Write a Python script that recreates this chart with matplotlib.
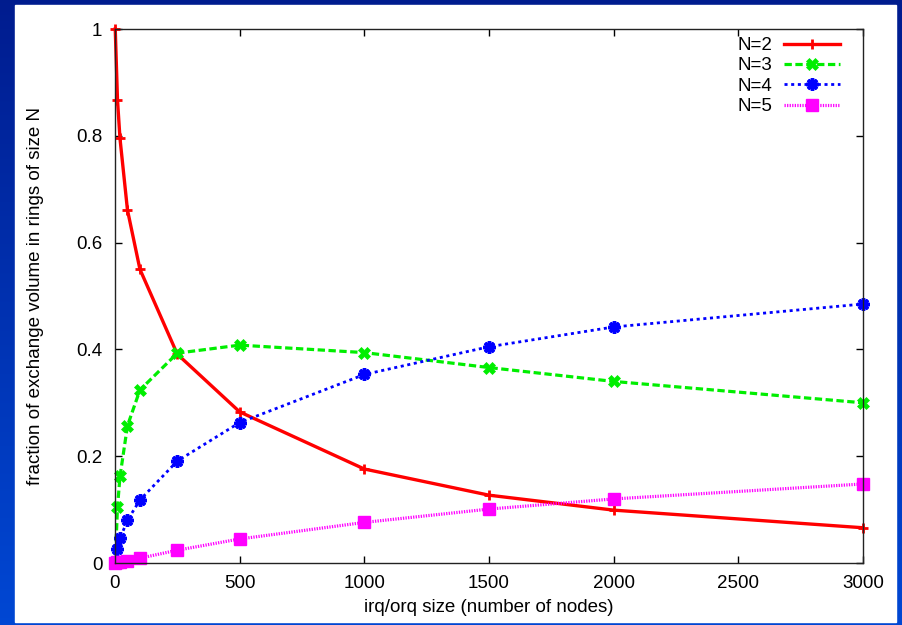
import matplotlib
matplotlib.use("Agg")
import matplotlib.pyplot as plt
import numpy as np
from matplotlib.patches import Rectangle

plt.rcParams['font.family'] = ['Liberation Sans', 'DejaVu Sans']
plt.rcParams['font.size'] = 13.5

# data
sizes = [1, 10, 20, 50, 100, 250, 500, 1000, 1500, 2000, 3000]
n2 = [1.0, 0.867, 0.795, 0.661, 0.550, 0.391, 0.283, 0.176, 0.127, 0.099, 0.066]
n3 = [0.0, 0.105, 0.162, 0.257, 0.324, 0.393, 0.408, 0.394, 0.366, 0.340, 0.300]
n4 = [0.0, 0.027, 0.046, 0.080, 0.118, 0.191, 0.263, 0.353, 0.405, 0.442, 0.485]
n5 = [0.0, 0.001, 0.002, 0.004, 0.009, 0.024, 0.045, 0.076, 0.101, 0.120, 0.148]
labels = ['N=2', 'N=3', 'N=4', 'N=5']
xticks = [0, 500, 1000, 1500, 2000, 2500, 3000]
yticks = [0, 0.2, 0.4, 0.6, 0.8, 1]
ytick_labels = ['0', '0.2', '0.4', '0.6', '0.8', '1']

fig = plt.figure(figsize=(9.03, 6.25), dpi=100)

# blue slide background (vertical gradient)
bg = fig.add_axes([0, 0, 1, 1], zorder=-10)
top = np.array([0.0, 0.11, 0.56])
bottom = np.array([0.0, 0.28, 0.83])
t = np.linspace(0, 1, 256)[:, None]
grad = top[None, :] * (1 - t) + bottom[None, :] * t
bg.imshow(grad[:, None, :], aspect='auto', extent=[0, 1, 0, 1])
bg.set_axis_off()
# white panel
bg.add_patch(Rectangle((15 / 903, 1 - 622 / 625), 881 / 903, 617 / 625,
                       transform=bg.transAxes, color='white', zorder=2))

ax = fig.add_axes([115 / 903, 1 - 563 / 625, 748 / 903, 534 / 625])
ax.patch.set_alpha(0)

ax.plot(sizes, n2, color='#ff0000', lw=2.4, marker='+', ms=7, mew=2, label=labels[0],
        clip_on=False)
ax.plot(sizes, n3, color='#00ee00', lw=2.3, ls=(0, (2.3, 1.1)), marker='X', ms=9,
        mew=0.5, label=labels[1], clip_on=False)
ax.plot(sizes, n4, color='#0000ff', lw=2.0, ls=(0, (1.1, 1.3)), marker=(8, 2, 0), ms=9,
        mew=2.5, label=labels[2], clip_on=False)
ax.plot(sizes, n5, color='#ff00ff', lw=2.3, ls=(0, (0.4, 0.4)), marker='s', ms=8.5,
        label=labels[3], clip_on=False)

ax.set_xlim(0, 3000)
ax.set_ylim(0, 1)
ax.set_xticks(xticks)
ax.set_yticks(yticks)
ax.set_yticklabels(ytick_labels)
ax.tick_params(direction='in', top=True, right=True, length=5, width=1, pad=9)
for s in ax.spines.values():
    s.set_linewidth(1)
    s.set_color('#222222')

ax.set_xlabel('irq/orq size (number of nodes)', labelpad=5)
ax.set_ylabel('fraction of exchange volume in rings of size N', labelpad=23)

ax.legend(loc='upper right', bbox_to_anchor=(1 - 23 / 748, 1 - 8 / 534), frameon=False,
          markerfirst=False, handlelength=3.0, handletextpad=0.6, labelspacing=0.17,
          borderpad=0, borderaxespad=0)

fig.savefig('out.png', dpi=100)
